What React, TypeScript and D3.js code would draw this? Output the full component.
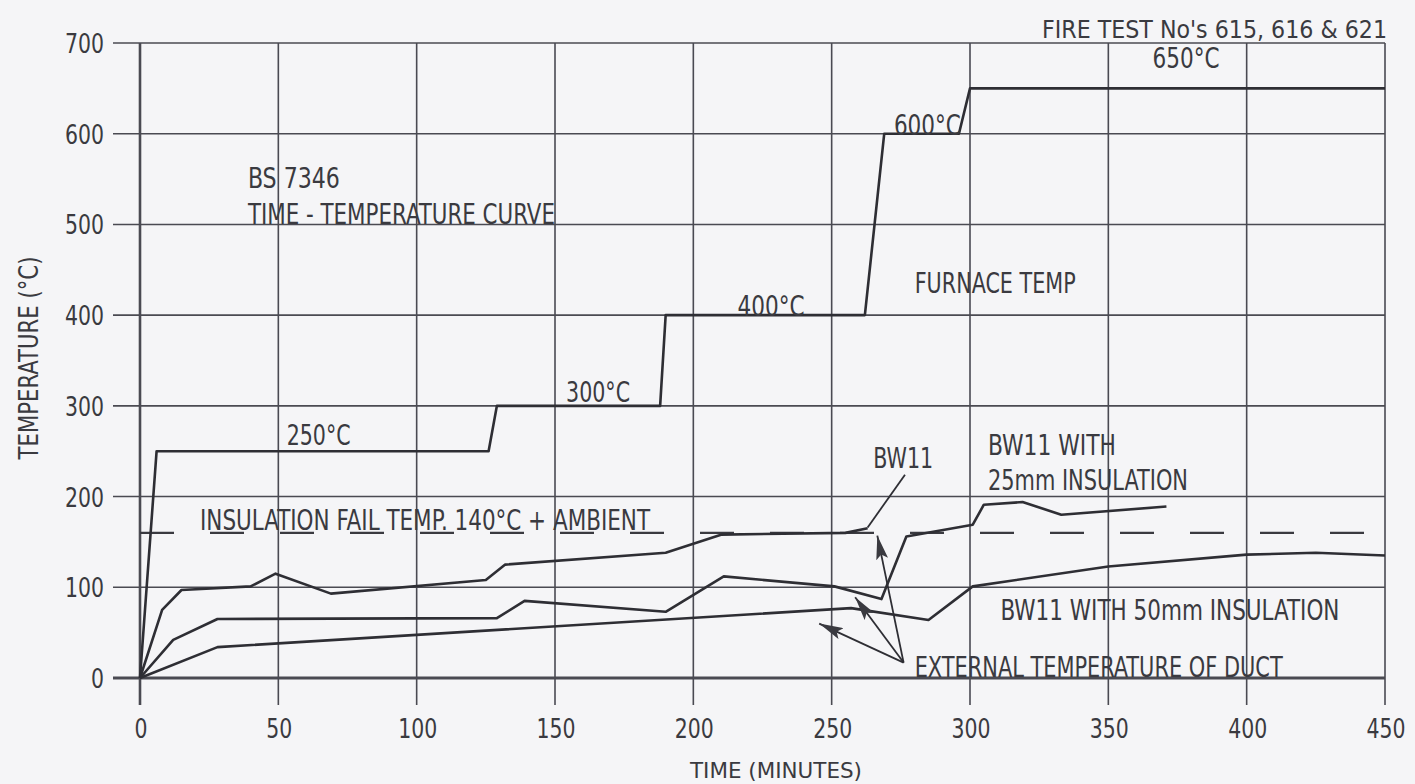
import { useMemo } from "react";
import * as d3 from "d3";

// BS 7346 furnace curve (minutes, °C)
const furnaceTime = [0, 6, 126, 129, 188, 190, 262, 269, 296, 300, 450];
const furnaceTemp = [0, 250, 250, 300, 300, 400, 400, 600, 600, 650, 650];

// external duct temperature, bare BW11
const bw11Time = [0, 8, 15, 40, 49, 69, 125, 132, 190, 210, 255, 263];
const bw11Temp = [0, 75, 97, 101, 115, 93, 108, 125, 138, 158, 160, 165];

// BW11 with 25mm insulation
const ins25Time = [0, 12, 28, 129, 139, 190, 211, 251, 268, 277, 301, 305, 319, 333, 371];
const ins25Temp = [0, 42, 65, 66, 85, 73, 112, 101, 87, 156, 169, 191, 194, 180, 189];

// BW11 with 50mm insulation
const ins50Time = [0, 28, 257, 285, 301, 350, 400, 425, 450];
const ins50Temp = [0, 34, 77, 64, 101, 123, 136, 138, 135];

const failTemp = 160;
const xTicks = [0, 50, 100, 150, 200, 250, 300, 350, 400, 450];
const yTicks = [0, 100, 200, 300, 400, 500, 600, 700];

// text notes placed in data units: [text, time, temp, width]
const notes: [string, number, number, number][] = [
  ["BS 7346", 39, 540, 92],
  ["TIME - TEMPERATURE CURVE", 39, 501, 307],
  ["250°C", 53, 257, 64],
  ["300°C", 154, 304, 64],
  ["400°C", 216, 399, 67],
  ["600°C", 272.5, 599, 67],
  ["650°C", 366, 672, 67],
  ["FURNACE TEMP", 280, 424, 161],
  ["BW11", 265, 231, 60],
  ["BW11 WITH", 306.5, 246, 128],
  ["25mm INSULATION", 306.5, 207, 200],
  ["INSULATION FAIL TEMP. 140°C + AMBIENT", 21.7, 163, 450],
  ["BW11 WITH 50mm INSULATION", 311, 64, 339],
  ["EXTERNAL TEMPERATURE OF DUCT", 280, 1, 368],
];

// leader arrows: from [t,T] to [t,T]
const arrowFrom: [number, number] = [276, 17];
const arrowTips: [number, number][] = [
  [266.5, 157],
  [258.5, 89],
  [245.5, 60],
];
const bw11Leader: [number, number][] = [
  [263, 166],
  [276.5, 224],
];

const FONT = "'Liberation Sans Narrow', 'DejaVu Sans Condensed', 'DejaVu Sans', sans-serif";
const INK = "#3a3a40";

export default function App() {
  const W = 1415;
  const H = 784;
  const x = useMemo(() => d3.scaleLinear().domain([0, 450]).range([140, 1385]), []);
  const y = useMemo(() => d3.scaleLinear().domain([0, 700]).range([678, 43]), []);

  const line = d3
    .line<[number, number]>()
    .x((d) => x(d[0]))
    .y((d) => y(d[1]));

  const zip = (a: number[], b: number[]) => a.map((v, i) => [v, b[i]] as [number, number]);
  const series = [
    zip(furnaceTime, furnaceTemp),
    zip(bw11Time, bw11Temp),
    zip(ins25Time, ins25Temp),
    zip(ins50Time, ins50Temp),
  ];

  return (
    <div style={{ position: "fixed", left: 0, top: 0, width: W, height: H }}>
      <svg width={W} height={H} style={{ display: "block" }}>
        <defs>
          <marker id="head" viewBox="0 0 20 10" refX="20" refY="5" markerWidth="24" markerHeight="12" markerUnits="userSpaceOnUse" orient="auto">
            <path d="M0,0 L20,5 L0,10 L4,5 Z" fill={INK} />
          </marker>
        </defs>
        <rect width={W} height={H} fill="#f5f5f7" />

        {/* grid */}
        <g stroke="#4a4a52" strokeWidth={1.6}>
          {yTicks.map((t) => (
            <line key={"h" + t} x1={113} x2={x(450)} y1={y(t)} y2={y(t)} strokeWidth={t === 0 ? 3.2 : 1.6} />
          ))}
          {xTicks.map((t) => (
            <line key={"v" + t} x1={x(t)} x2={x(t)} y1={y(700)} y2={y(0) + 27} strokeWidth={t === 0 ? 2.6 : 1.6} />
          ))}
        </g>

        {/* tick labels */}
        <g fill={INK} fontFamily={FONT} fontSize={26}>
          {yTicks.map((t) => (
            <text key={"yl" + t} x={104} y={y(t) + 10} textAnchor="end" textLength={String(t).length * 13} lengthAdjust="spacingAndGlyphs">
              {t}
            </text>
          ))}
          {xTicks.map((t) => (
            <text key={"xl" + t} x={x(t) + 1} y={738} textAnchor="middle" textLength={String(t).length * 13} lengthAdjust="spacingAndGlyphs">
              {t}
            </text>
          ))}
        </g>

        {/* insulation fail line */}
        <line x1={x(0)} x2={x(450)} y1={y(failTemp)} y2={y(failTemp)} stroke={INK} strokeWidth={2.2} strokeDasharray="34 36" />

        {/* curves */}
        <g fill="none" stroke="#2e2e34" strokeWidth={2.6} strokeLinejoin="round">
          {series.map((s, i) => (
            <path key={i} d={line(s) ?? ""} />
          ))}
        </g>

        {/* leaders */}
        <g stroke="#2e2e34" strokeWidth={1.8} fill="none">
          <path d={line(bw11Leader) ?? ""} />
          {arrowTips.map((tip, i) => (
            <line key={i} x1={x(arrowFrom[0])} y1={y(arrowFrom[1])} x2={x(tip[0])} y2={y(tip[1])} markerEnd="url(#head)" />
          ))}
        </g>

        {/* notes */}
        <g fill={INK} fontFamily={FONT} fontSize={28}>
          {notes.map(([txt, t, v, w]) => (
            <text key={txt} x={x(t)} y={y(v)} textLength={w} lengthAdjust="spacingAndGlyphs">
              {txt}
            </text>
          ))}
          <text x={1387} y={38} fontSize={24} textAnchor="end" textLength={345} lengthAdjust="spacingAndGlyphs">
            FIRE TEST No's 615, 616 &amp; 621
          </text>
          <text x={776} y={778} fontSize={22} textAnchor="middle" textLength={172} lengthAdjust="spacingAndGlyphs">
            TIME (MINUTES)
          </text>
          <text transform="translate(38,358) rotate(-90)" fontSize={27} textAnchor="middle" textLength={203} lengthAdjust="spacingAndGlyphs">
            TEMPERATURE (°C)
          </text>
        </g>
      </svg>
    </div>
  );
}
